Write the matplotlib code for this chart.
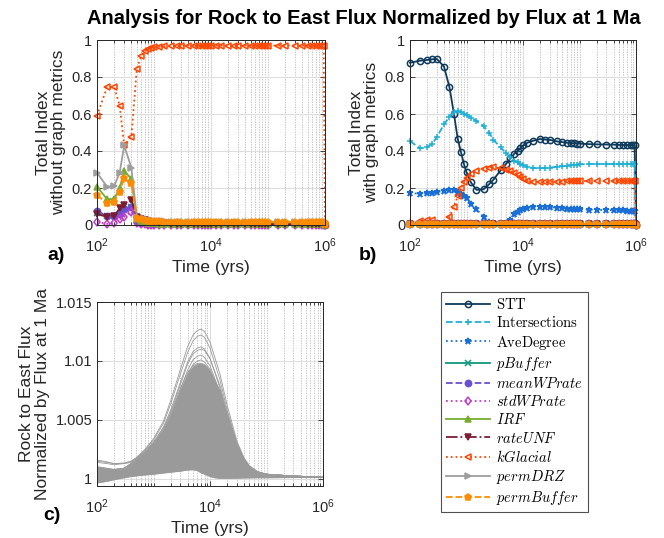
import numpy as np
import matplotlib.pyplot as plt
from matplotlib.font_manager import FontProperties
from matplotlib.ticker import LogLocator, NullFormatter

plt.rcParams['font.family'] = ['Liberation Sans', 'DejaVu Sans']

# time steps (yrs) for panels a) and b)
t = [100, 150, 200, 250, 300, 400, 500, 600, 700, 800,
     900, 1000, 1200, 1500, 2000, 2500, 3000, 4000, 5000, 6000,
     7000, 8000, 9000, 1e4, 1.2e4, 1.5e4, 2e4, 2.5e4, 3e4, 4e4,
     5e4, 6e4, 7e4, 8e4, 9e4, 1e5, 1.5e5, 2e5, 3e5, 4e5,
     5e5, 6e5, 7e5, 8e5, 9e5, 9.5e5, 1e6]

# a) total index without graph metrics
a_pBuffer = [.065, .05, .05, .06, .085, .10, .025, .015, .012, .010,
             .009, .008, .007, .006, .005, .005, .005, .005, .005, .005,
             .005, .005, .005, .005, .005, .004, .004, .004, .004, .004,
             .004, .004, .004, .004, .004, .004, .004, .004, .004, .004,
             .004, .004, .004, .004, .004, .004, .002]
a_meanWPrate = [.075, .05, .05, .06, .085, .095, .02, .012, .010, .008,
                .007, .006, .005, .005, .004, .004, .004, .004, .003, .003,
                .003, .003, .003, .003, .003, .003, .003, .003, .003, .003,
                .003, .003, .003, .003, .003, .003, .003, .003, .003, .003,
                .003, .003, .003, .003, .003, .003, .001]
a_stdWPrate = [.018, .006, .012, .03, .045, .072, .01, .005, .003, .002,
               .001, .001, 0, 0, 0, 0, 0, 0, 0, 0,
               0, 0, 0, 0, 0, 0, 0, 0, 0, 0,
               0, 0, 0, 0, 0, 0, 0, 0, 0, 0,
               0, 0, 0, 0, 0, 0, 0]
a_IRF = [.207, .14, .14, .20, .292, .25, .03, .02, .015, .012,
         .010, .009, .008, .007, .006, .006, .005, .005, .005, .005,
         .005, .005, .005, .005, .005, .005, .005, .005, .005, .005,
         .005, .005, .005, .005, .005, .005, .005, .005, .005, .005,
         .005, .005, .005, .005, .005, .005, .002]
a_rateUNF = [.058, .045, .05, .09, .108, .135, .045, .03, .025, .02,
             .017, .015, .012, .010, .008, .007, .006, .005, .005, .005,
             .005, .005, .005, .004, .004, .004, .004, .004, .004, .004,
             .004, .004, .004, .004, .004, .004, .004, .004, .004, .004,
             .004, .004, .004, .004, .004, .004, .002]
a_kGlacial = [.59, .745, .745, .645, .43, .475, .845, .915, .94, .95,
              .955, .96, .963, .966, .968, .97, .97, .97, .97, .97,
              .97, .97, .97, .97, .97, .97, .97, .97, .97, .97,
              .97, .97, .97, .97, .97, .97, .97, .97, .97, .97,
              .97, .97, .97, .97, .97, .97, 0]
a_permDRZ = [.283, .207, .21, .283, .43, .31, .045, .035, .03, .027,
             .025, .023, .021, .019, .017, .016, .016, .016, .015, .015,
             .015, .015, .016, .016, .016, .015, .015, .015, .016, .016,
             .016, .015, .015, .015, .016, .016, .016, .015, .015, .015,
             .016, .016, .015, .015, .015, .015, .005]
a_permBuffer = [.162, .117, .126, .18, .252, .225, .04, .03, .026, .023,
                .021, .02, .019, .018, .017, .017, .017, .016, .016, .016,
                .016, .016, .016, .017, .017, .016, .016, .016, .017, .017,
                .017, .016, .016, .016, .017, .017, .016, .016, .016, .017,
                .017, .016, .016, .016, .016, .016, .005]

# b) total index with graph metrics
b_STT = [.877, .888, .892, .896, .897, .856, .744, .60, .465, .393,
         .33, .285, .23, .19, .193, .22, .245, .295, .33, .36,
         .385, .40, .415, .43, .445, .455, .465, .462, .46, .452,
         .448, .445, .443, .442, .44, .44, .437, .436, .435, .434,
         .433, .433, .432, .432, .431, .43, 0]
b_Intersections = [.454, .414, .42, .44, .477, .544, .585, .613, .614, .61,
                   .60, .595, .58, .562, .535, .50, .46, .42, .39, .365,
                   .348, .338, .328, .322, .315, .308, .307, .308, .31, .315,
                   .318, .32, .322, .325, .327, .328, .329, .33, .33, .33,
                   .33, .33, .33, .33, .33, .33, 0]
b_AveDegree = [.171, .17, .172, .173, .178, .185, .19, .188, .178, .166,
               .155, .145, .115, .085, .045, .015, .005, .002, .005, .025,
               .058, .072, .083, .088, .093, .096, .10, .098, .096, .093,
               .09, .088, .087, .086, .086, .086, .083, .082, .08, .08,
               .079, .079, .078, .078, .078, .078, 0]
b_kGlacial = [.008, .02, .025, .025, .008, .005, .045, .10, .155, .20,
              .232, .255, .275, .29, .305, .31, .312, .306, .298, .29,
              .28, .27, .258, .248, .238, .234, .232, .232, .233, .234,
              .235, .236, .236, .237, .237, .237, .238, .238, .238, .238,
              .238, .238, .238, .238, .238, .238, 0]
b_small = [.004, .004, .005, .004, .004, .005, .004, .004, .004, .004,
           .004, .004, .004, .004, .004, .004, .004, .004, .004, .004,
           .004, .004, .004, .004, .004, .004, .004, .004, .004, .004,
           .004, .004, .004, .004, .004, .004, .004, .004, .004, .004,
           .004, .004, .004, .004, .004, .004, .002]

# c) flux realizations: envelope of the bulk plus top individual curves
tc = [100, 150, 200, 300, 400, 500, 700, 1000, 1500, 2000,
      3000, 4000, 5000, 6000, 7000, 8000, 1e4, 1.2e4, 1.5e4, 2e4,
      3e4, 4e4, 5e4, 7e4, 1e5, 2e5, 5e5, 1e6]
c_low = [.99966, .9998, .99994, 1.0001, 1.0002, 1.00026, 1.00034, 1.0004, 1.0005, 1.00057,
         1.00066, 1.00076, 1.00078, 1.0007, 1.0005, 1.0004, 1.0002, 1.0001, 1.00005, 1.00005,
         1.00006, 1.00008, 1.00009, 1.0001, 1.0001, 1.00011, 1.00012, 1.00012]
c_high = [1.00105, 1.0009, 1.0008, 1.0009, 1.0013, 1.0017, 1.0023, 1.0031, 1.0043, 1.0055,
          1.0077, 1.0090, 1.0096, 1.0098, 1.0098, 1.0097, 1.0092, 1.0084, 1.0075, 1.0055,
          1.0029, 1.0016, 1.0010, 1.0006, 1.0004, 1.0003, 1.0002, 1.00015]
c_runs = [
    [1.0016, 1.00145, 1.0013, 1.00135, 1.0015, 1.0018, 1.0025, 1.0034, 1.0049, 1.0066,
     1.0093, 1.0112, 1.0122, 1.0126, 1.0127, 1.0125, 1.0116, 1.0104, 1.0089, 1.0063,
     1.0032, 1.0018, 1.0011, 1.0006, 1.0004, 1.0003, 1.0002, 1.00015],
    [1.0015, 1.0014, 1.0013, 1.0013, 1.0015, 1.0018, 1.0024, 1.0033, 1.0047, 1.0063,
     1.0089, 1.0107, 1.0117, 1.0121, 1.0122, 1.0120, 1.0111, 1.0099, 1.0084, 1.0059,
     1.0030, 1.0017, 1.0010, 1.0006, 1.0004, 1.0003, 1.0002, 1.00015],
    [1.0014, 1.0013, 1.0012, 1.0013, 1.0014, 1.0017, 1.0023, 1.0031, 1.0044, 1.0058,
     1.0082, 1.0099, 1.0108, 1.0111, 1.0112, 1.0110, 1.0102, 1.0091, 1.0077, 1.0054,
     1.0028, 1.0016, 1.0010, 1.0006, 1.0004, 1.0003, 1.0002, 1.00015],
    [1.0010, 1.0009, 1.0008, 1.0009, 1.0013, 1.0017, 1.0022, 1.0030, 1.0042, 1.0056,
     1.0080, 1.0097, 1.0106, 1.0109, 1.0110, 1.0109, 1.0102, 1.0092, 1.0079, 1.0057,
     1.0030, 1.0017, 1.0011, 1.0006, 1.0004, 1.0003, 1.0002, 1.00015],
    [1.0009, 1.0008, 1.0008, 1.0009, 1.0013, 1.0016, 1.0021, 1.0029, 1.0040, 1.0053,
     1.0076, 1.0092, 1.0101, 1.0104, 1.0105, 1.0103, 1.0096, 1.0086, 1.0073, 1.0052,
     1.0027, 1.0015, 1.0010, 1.0005, 1.0004, 1.0003, 1.0002, 1.00015],
    [1.0008, 1.0008, 1.0007, 1.0009, 1.0012, 1.0015, 1.0020, 1.0027, 1.0038, 1.0050,
     1.0072, 1.0088, 1.0097, 1.0100, 1.0101, 1.0099, 1.0093, 1.0084, 1.0072, 1.0051,
     1.0027, 1.0015, 1.0009, 1.0005, 1.0004, 1.0003, 1.0002, 1.00015],
]

index_ticks = [0, 0.2, 0.4, 0.6, 0.8, 1]
index_labels = ['0', '0.2', '0.4', '0.6', '0.8', '1']
flux_ticks = [1, 1.005, 1.01, 1.015]
flux_labels = ['1', '1.005', '1.01', '1.015']
time_ticks = [1e2, 1e4, 1e6]
time_labels = [r'$\mathdefault{10^{2}}$', r'$\mathdefault{10^{4}}$', r'$\mathdefault{10^{6}}$']

# name: (legend label, color, linestyle, marker, hollow)
style = {
    'STT': (r'$\mathrm{STT}$', '#0e3a5c', '-', 'o', True),
    'Intersections': (r'$\mathrm{Intersections}$', '#1fb0d6', '--', '+', False),
    'AveDegree': (r'$\mathrm{AveDegree}$', '#1a6fd6', ':', '*', False),
    'pBuffer': (r'$pBuffer$', '#0f9980', '-', 'x', False),
    'meanWPrate': (r'$meanWPrate$', '#6a4fd0', '--', 'o', False),
    'stdWPrate': (r'$stdWPrate$', '#c13cc6', ':', 'd', True),
    'IRF': (r'$IRF$', '#77ac30', '-', '^', False),
    'rateUNF': (r'$rateUNF$', '#7b1c34', '-.', 'v', False),
    'kGlacial': (r'$kGlacial$', '#ff4500', ':', '<', True),
    'permDRZ': (r'$permDRZ$', '#9e9e9e', '-', '>', False),
    'permBuffer': (r'$permBuffer$', '#ff8c00', '--', 'p', False),
}

a_data = {'pBuffer': a_pBuffer, 'meanWPrate': a_meanWPrate, 'stdWPrate': a_stdWPrate,
          'IRF': a_IRF, 'rateUNF': a_rateUNF, 'kGlacial': a_kGlacial,
          'permDRZ': a_permDRZ, 'permBuffer': a_permBuffer}
b_data = {'STT': b_STT, 'Intersections': b_Intersections, 'AveDegree': b_AveDegree,
          'pBuffer': b_small, 'meanWPrate': b_small, 'stdWPrate': b_small,
          'IRF': b_small, 'rateUNF': b_small, 'kGlacial': b_kGlacial,
          'permDRZ': b_small, 'permBuffer': b_small}

txt = '#262626'


def style_axes(ax, ticks, labels, ylim):
    ax.set_xscale('log')
    ax.set_xlim(1e2, 1e6)
    ax.set_ylim(*ylim)
    ax.set_xticks(time_ticks)
    ax.set_xticklabels(time_labels)
    ax.xaxis.set_minor_locator(LogLocator(base=10, subs=np.arange(1, 10), numticks=20))
    ax.xaxis.set_minor_formatter(NullFormatter())
    ax.set_yticks(ticks)
    ax.set_yticklabels(labels)
    ax.grid(True, which='major', color='#dedede', lw=0.8, ls='-')
    ax.xaxis.grid(True, which='minor', color='#b8b8b8', lw=0.6, ls=(0, (1.5, 1.5)))
    ax.set_axisbelow(True)
    ax.tick_params(which='both', direction='in', top=True, right=True, colors=txt,
                   labelsize=10.5, width=0.6)
    ax.tick_params(which='major', length=3.5)
    ax.tick_params(which='minor', length=2)
    ax.tick_params(axis='x', which='major', pad=8.5)
    for s in ax.spines.values():
        s.set_color(txt)
        s.set_linewidth(0.7)
    ax.set_xlabel('Time (yrs)', fontsize=12.5, color=txt, labelpad=3)


def draw(ax, name, y):
    label, color, ls, marker, hollow = style[name]
    return ax.plot(t, y, color=color, ls=ls, lw=1.3, marker=marker, ms=4.5,
                   mec=color, mfc='none' if hollow else color, mew=1.1,
                   label=label, clip_on=False)[0]


fig = plt.figure(figsize=(6.64, 5.38), dpi=100)
axa = fig.add_axes([97 / 664, 1 - 225 / 538, 228 / 664, 185 / 538])
axb = fig.add_axes([410 / 664, 1 - 225 / 538, 226 / 664, 185 / 538])
axc = fig.add_axes([97 / 664, 1 - 486 / 538, 226 / 664, 184 / 538])

handles = {}
for name, y in a_data.items():
    handles[name] = draw(axa, name, y)
for name, y in b_data.items():
    h = draw(axb, name, y)
    if name in ('STT', 'Intersections', 'AveDegree'):
        handles[name] = h

style_axes(axa, index_ticks, index_labels, (0, 1))
style_axes(axb, index_ticks, index_labels, (0, 1))
axa.set_ylabel('Total Index\nwithout graph metrics', fontsize=12.5, color=txt, linespacing=1.05)
axb.set_ylabel('Total Index\nwith graph metrics', fontsize=12.5, color=txt, linespacing=1.05)

gray = '#9a9a9a'
axc.fill_between(tc, c_low, c_high, color=gray, lw=0)
axc.plot(tc, c_low, color=gray, lw=0.6)
axc.plot(tc, c_high, color=gray, lw=0.6)
for run in c_runs:
    axc.plot(tc, run, color=gray, lw=0.6)
style_axes(axc, flux_ticks, flux_labels, (0.9994, 1.015))
axc.set_ylabel('Rock to East Flux\nNormalized by Flux at 1 Ma', fontsize=12.5, color=txt,
               linespacing=1.05)

order = ['STT', 'Intersections', 'AveDegree', 'pBuffer', 'meanWPrate', 'stdWPrate',
         'IRF', 'rateUNF', 'kGlacial', 'permDRZ', 'permBuffer']
leg = fig.legend([handles[k] for k in order], [style[k][0] for k in order],
                 loc='upper left', bbox_to_anchor=(441 / 664, 1 - 292 / 538),
                 borderaxespad=0, prop=FontProperties(size=10.5, math_fontfamily='cm'),
                 fancybox=False, framealpha=1, edgecolor='#505050',
                 handlelength=3.0, handletextpad=0.4, borderpad=0.35, labelspacing=0.22)
leg.get_frame().set_linewidth(0.8)

fig.text(0.548, 1 - 19 / 538, 'Analysis for Rock to East Flux Normalized by Flux at 1 Ma',
         ha='center', va='center', fontsize=14.5, fontweight='bold')
fig.text(56 / 664, 1 - 255 / 538, 'a)', ha='center', va='center', fontsize=14, fontweight='bold')
fig.text(368 / 664, 1 - 255 / 538, 'b)', ha='center', va='center', fontsize=14, fontweight='bold')
fig.text(52 / 664, 1 - 515 / 538, 'c)', ha='center', va='center', fontsize=14, fontweight='bold')

fig.savefig('out.png', dpi=100)
